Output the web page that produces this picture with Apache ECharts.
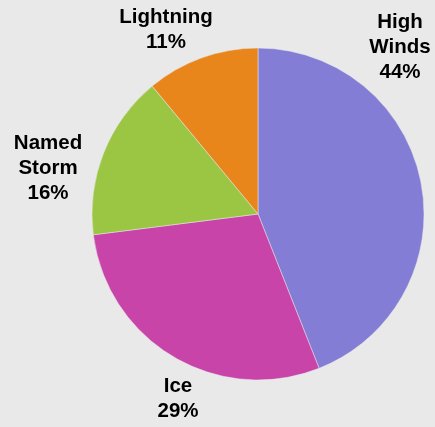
<!DOCTYPE html>
<html>
<head>
<meta charset="utf-8">
<script src="https://cdn.jsdelivr.net/npm/echarts@6/dist/echarts.min.js"></script>
<style>
  html, body { margin: 0; padding: 0; background: #e9e9e9; }
  #main { width: 435px; height: 427px; }
</style>
</head>
<body>
<div id="main"></div>
<script>
// hazard categories, clockwise from 12 o'clock
const categories = ['High Winds', 'Ice', 'Named Storm', 'Lightning']
const shares = [44, 29, 16, 11]
const colors = ['#837dd5', '#c844a8', '#9bc644', '#e8861c']
// where the labels sit (block centre), like the original's best-fit placement
const labelPos = [[400, 47], [178, 399], [48, 168], [166, 30]]

let chartDom = document.getElementById('main')
let myChart = echarts.init(chartDom)

let option = {
  backgroundColor: '#e9e9e9',
  animation: false,
  series: [{
    type: 'pie',
    center: [258, 214],
    radius: 166,
    startAngle: 90,
    clockwise: true,
    percentPrecision: 0,
    avoidLabelOverlap: false,
    silent: true,
    itemStyle: {
      borderColor: '#e9e9e9',
      borderWidth: 0.5
    },
    label: {
      show: true,
      position: 'outside',
      alignTo: 'none',
      overflow: 'none',
      formatter: function (p) {
        return p.name.replace(' ', '\n') + '\n' + p.percent + '%'
      },
      color: '#000',
      fontFamily: 'Liberation Sans, Arial, sans-serif',
      fontWeight: 'bold',
      fontSize: 20.5,
      lineHeight: 25,
      align: 'center'
    },
    labelLine: { show: false },
    labelLayout: function (params) {
      let pos = labelPos[params.dataIndex]
      return { x: pos[0], y: pos[1], align: 'center', verticalAlign: 'middle', hideOverlap: false }
    },
    data: categories.map((name, i) => ({
      name: name,
      value: shares[i],
      itemStyle: { color: colors[i] }
    }))
  }]
}
myChart.setOption(option)
</script>
</body>
</html>
